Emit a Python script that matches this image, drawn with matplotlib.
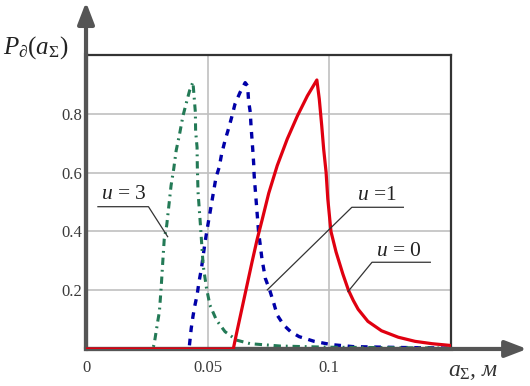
import matplotlib
matplotlib.use('Agg')
import matplotlib.pyplot as plt

# ============================================================
# Data (a_sigma in m, probability density)
# ============================================================
x_u0 = [0.0, 0.0606, 0.062, 0.0641, 0.0662, 0.0683, 0.0704, 0.0725, 0.0752,
        0.0787, 0.0828, 0.087, 0.0911, 0.095, 0.096, 0.097, 0.0978, 0.0988,
        0.0995, 0.1008, 0.1029, 0.1057, 0.108, 0.110, 0.112, 0.116, 0.1216,
        0.1285, 0.1354, 0.1424, 0.15]
y_u0 = [0.0, 0.0, 0.055, 0.135, 0.215, 0.295, 0.372, 0.44, 0.53,
        0.624, 0.714, 0.793, 0.861, 0.915, 0.85, 0.76, 0.68, 0.601,
        0.511, 0.40, 0.33, 0.255, 0.20, 0.165, 0.135, 0.094, 0.062,
        0.040, 0.026, 0.018, 0.012]

x_u1 = [0.0, 0.0424, 0.0433, 0.044, 0.0447, 0.0457, 0.0465, 0.0475, 0.0489,
        0.0497, 0.0535, 0.0548, 0.0558, 0.0572, 0.0586, 0.060, 0.0613, 0.0634,
        0.0655, 0.0665, 0.0669, 0.0676, 0.0679, 0.0683, 0.0687, 0.069, 0.0692,
        0.071, 0.0724, 0.0738, 0.0756, 0.0773, 0.0787, 0.0814, 0.0842, 0.0877,
        0.0939, 0.1008, 0.11, 0.13, 0.15]
y_u1 = [0.0, 0.0, 0.07, 0.11, 0.144, 0.183, 0.228, 0.274, 0.358,
        0.40, 0.584, 0.618, 0.663, 0.709, 0.748, 0.79, 0.833, 0.873,
        0.906, 0.895, 0.844, 0.805, 0.76, 0.714, 0.669, 0.63, 0.59,
        0.40, 0.307, 0.24, 0.20, 0.155, 0.115, 0.081, 0.059, 0.042,
        0.026, 0.015, 0.008, 0.005, 0.003]

x_u3 = [0.0, 0.0275, 0.0281, 0.0295, 0.0302, 0.0309, 0.0315, 0.0322, 0.0332,
        0.035, 0.0361, 0.0371, 0.0385, 0.0399, 0.0417, 0.0426, 0.044, 0.0444,
        0.045, 0.0451, 0.0457, 0.0458, 0.0461, 0.0471, 0.0482, 0.0496, 0.051,
        0.0537, 0.0572, 0.062, 0.0676, 0.08, 0.10, 0.15]
y_u3 = [0.0, 0.0, 0.019, 0.093, 0.127, 0.206, 0.285, 0.375, 0.42,
        0.556, 0.613, 0.675, 0.731, 0.793, 0.85, 0.878, 0.908, 0.867,
        0.805, 0.742, 0.686, 0.624, 0.534, 0.42, 0.285, 0.206, 0.149,
        0.098, 0.059, 0.03, 0.018, 0.01, 0.006, 0.003]

x_ticks = [0, 0.05, 0.1]
x_tick_labels = ['0', '0.05', '0.1']
y_ticks = [0.2, 0.4, 0.6, 0.8]
y_tick_labels = ['0.2', '0.4', '0.6', '0.8']

plt.rcParams.update({
    'font.family':      'Liberation Serif',
    'mathtext.fontset': 'custom',
    'mathtext.rm':      'Liberation Serif',
    'mathtext.it':      'Liberation Serif:italic',
    'mathtext.bf':      'Liberation Serif:bold',
})

AXIS_C = '#555555'
FRAME_C = '#333333'

fig = plt.figure(figsize=(5.3, 3.86), dpi=100)
ax = fig.add_axes([0.1623, 0.0959, 0.6877, 0.7616])

ax.plot(x_u0, y_u0, color='#e00010', lw=2.3, zorder=4)
ax.plot(x_u1, y_u1, color='#0000a8', lw=2.4, ls=(0, (2.0, 2.0)), zorder=3)
ax.plot(x_u3, y_u3, color='#237a56', lw=2.2, ls=(0, (2.4, 1.6, 0.6, 1.6)), zorder=3)

ax.set_xlim(0, 0.15)
ax.set_ylim(0, 1.0)
ax.set_xticks(x_ticks)
ax.set_xticklabels(x_tick_labels)
ax.set_yticks(y_ticks)
ax.set_yticklabels(y_tick_labels)
ax.tick_params(length=0, labelsize=12, labelcolor='#3a3a3a')
ax.tick_params(axis='x', pad=8)
ax.tick_params(axis='y', pad=3)
ax.grid(color='#c0c0c0', lw=1.2, zorder=1)
ax.set_axisbelow(True)

for side in ['left', 'bottom']:
    ax.spines[side].set_color(AXIS_C)
    ax.spines[side].set_linewidth(3)
for side in ['top', 'right']:
    ax.spines[side].set_color(FRAME_C)
    ax.spines[side].set_linewidth(1.6)

# axis arrows running past the frame
arrow = dict(arrowstyle='-|>,head_length=0.65,head_width=0.25', mutation_scale=20,
             color=AXIS_C, lw=3, shrinkA=0, shrinkB=0)
ax.annotate('', xy=(0, 1.18), xytext=(0, 0), xycoords='axes fraction',
            arrowprops=arrow, annotation_clip=False)
ax.annotate('', xy=(1.21, 0), xytext=(0, 0), xycoords='axes fraction',
            arrowprops=arrow, annotation_clip=False)

# curve labels with leader lines
labels = [
    (r'$u$ = 3', (0.0154, 0.525), [0.0049, 0.0257, 0.0336], [0.484, 0.484, 0.382]),
    (r'$u$ =1', (0.1197, 0.522), [0.1306, 0.1094, 0.0746], [0.482, 0.482, 0.201]),
    (r'$u$ = 0', (0.1289, 0.333), [0.1417, 0.1177, 0.1078], [0.295, 0.295, 0.195]),
]
for txt, (tx, ty), lx, ly in labels:
    ax.plot(lx, ly, color='#333333', lw=0.9, zorder=5, clip_on=False)
    ax.text(tx, ty, txt, fontsize=15.5, ha='center', va='center', color='#222222', zorder=6)

fig.text(3 / 530, 1 - 48 / 386, r'$P_{\partial}(a_{\Sigma})$', fontsize=18,
         ha='left', va='center', color='#222222')
fig.text(448 / 530, 1 - 372 / 386, r'$a_{\Sigma}$, м', fontsize=17, style='italic',
         ha='left', va='center', color='#333333')

fig.savefig('out.png', dpi=100)
plt.close(fig)
